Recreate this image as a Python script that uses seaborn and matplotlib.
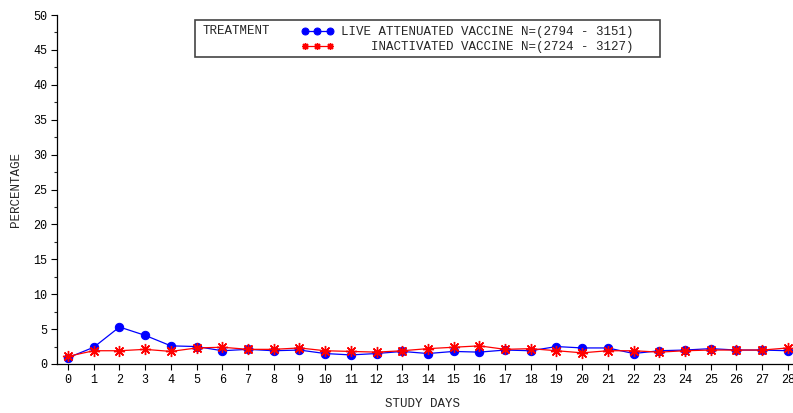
import seaborn as sns
import pandas as pd
import matplotlib.pyplot as plt
from matplotlib.patches import Rectangle
from matplotlib.ticker import MultipleLocator

days = list(range(29))
live_pct = [0.9, 2.4, 5.3, 4.1, 2.6, 2.5, 1.9, 2.1, 1.9, 2.0, 1.5, 1.3, 1.5, 1.8, 1.5,
            1.8, 1.7, 2.0, 1.9, 2.5, 2.3, 2.3, 1.5, 1.9, 2.0, 2.2, 2.0, 2.0, 1.9]
inact_pct = [1.1, 1.9, 1.9, 2.1, 1.8, 2.3, 2.4, 2.1, 2.1, 2.3, 1.9, 1.8, 1.7, 1.9, 2.2,
             2.4, 2.6, 2.1, 2.2, 1.9, 1.6, 1.9, 1.9, 1.7, 1.9, 2.0, 2.0, 2.0, 2.3]
live_label = "LIVE ATTENUATED VACCINE N=(2794 - 3151)"
inact_label = "    INACTIVATED VACCINE N=(2724 - 3127)"

sns.set_style('ticks')
plt.rcParams['font.family'] = ['Liberation Mono', 'DejaVu Sans Mono']
fs = 9

fig = plt.figure(figsize=(7.93, 4.13), dpi=100)
ax = fig.add_axes([57 / 793, 1 - 364 / 413, 736 / 793, 349 / 413])

sns.lineplot(x=days, y=live_pct, color='#0000ff', marker='o', markersize=6,
             markeredgecolor='#0000ff', linewidth=0.9, label=live_label, ax=ax)
sns.lineplot(x=days, y=inact_pct, color='#ff0000', marker=(8, 2, 0), markersize=8,
             markeredgecolor='#ff0000', markeredgewidth=1, linewidth=0.9,
             label=inact_label, ax=ax)

ax.set_xlim(-0.43, 28.2)
ax.set_ylim(0, 50)
ax.set_xticks(days)
ax.yaxis.set_major_locator(MultipleLocator(5))
ax.yaxis.set_minor_locator(MultipleLocator(2.5))
ax.tick_params(axis='both', labelsize=8.5, length=4, width=0.8, colors='black', pad=3)
ax.tick_params(axis='y', which='minor', length=2, width=0.8)
for s in ['top', 'right']:
    ax.spines[s].set_visible(False)
for s in ['left', 'bottom']:
    ax.spines[s].set_linewidth(0.9)
    ax.spines[s].set_color('black')

ax.set_xlabel('STUDY DAYS', fontsize=fs)
ax.set_ylabel('PERCENTAGE', fontsize=fs)
ax.xaxis.set_label_coords(0.497, -0.098)
ax.yaxis.set_label_coords(-0.047, 0.5)

ax.add_patch(Rectangle((0.1875, 0.880), 0.632, 0.106, transform=ax.transAxes,
                       fill=False, edgecolor='#444444', linewidth=1.2))
ax.text(0.198, 0.954, 'TREATMENT', transform=ax.transAxes, fontsize=fs,
        va='center', ha='left')
leg = ax.legend(loc='upper left', bbox_to_anchor=(0.318, 0.997), frameon=False,
                fontsize=fs, handlelength=2.6, handletextpad=0.6, numpoints=3,
                labelspacing=0.25, borderpad=0.3)
for h in leg.legend_handles:
    h.set_markersize(5)

fig.savefig('out.png', dpi=100)
